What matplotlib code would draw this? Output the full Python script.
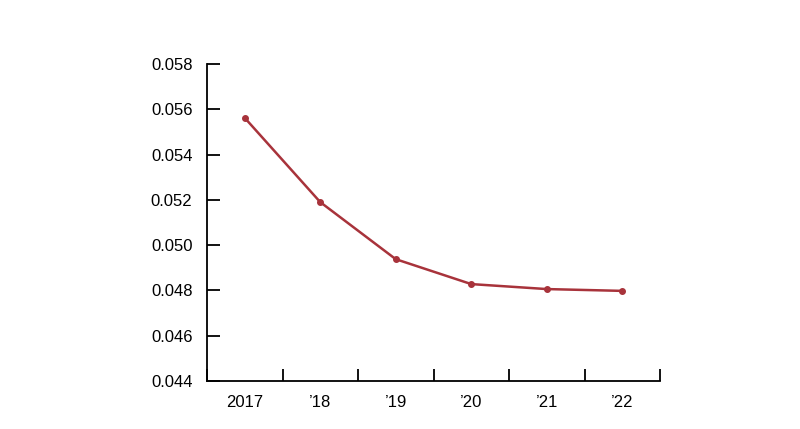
import matplotlib
matplotlib.use("Agg")
import matplotlib.pyplot as plt
import numpy as np

categories = ["2017", "\u201918", "\u201919", "\u201920", "\u201921", "\u201922"]
values = [0.05562, 0.0519, 0.04938, 0.04828, 0.04806, 0.04798]
y_ticks = [0.044, 0.046, 0.048, 0.050, 0.052, 0.054, 0.056, 0.058]

plt.rcParams['font.family'] = ['Liberation Sans', 'DejaVu Sans']

fig = plt.figure(figsize=(8, 4.29), dpi=100)
ax = fig.add_axes([207/800, 48/429, (660-207)/800, (381-64)/429])

color = "#a8333b"
x = np.arange(len(categories))
ax.plot(x, values, color=color, lw=1.8, marker="o", markersize=4, solid_joinstyle="round")

ax.set_xlim(-0.5, len(categories) - 0.5)
ax.set_ylim(0.044, 0.058)
ax.set_yticks(y_ticks)
ax.set_yticklabels([f"{v:.3f}" for v in y_ticks])

ax.set_xticks(np.arange(len(categories) + 1) - 0.5)
ax.set_xticklabels([])
ax.set_xticks(x, minor=True)
ax.set_xticklabels(categories, minor=True)

for s in ["top", "right"]:
    ax.spines[s].set_visible(False)
for s in ["left", "bottom"]:
    ax.spines[s].set_linewidth(1.3)
    ax.spines[s].set_color("black")

ax.tick_params(axis="y", direction="in", length=9, width=1.3, labelsize=12, pad=10.5, colors="black")
ax.tick_params(axis="x", which="major", direction="in", length=9, width=1.3)
ax.tick_params(axis="x", which="minor", length=0, labelsize=12, pad=10)

fig.savefig("out.png", dpi=100)
